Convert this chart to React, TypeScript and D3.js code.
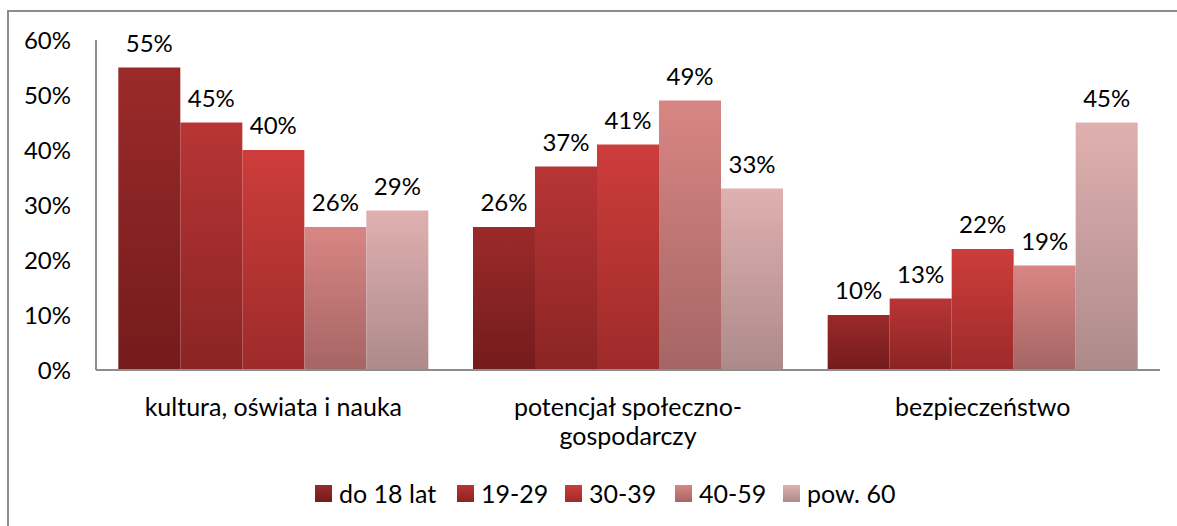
import React from 'react';
import * as d3 from 'd3';

const categories = [['kultura, oświata i nauka'], ['potencjał społeczno-', 'gospodarczy'], ['bezpieczeństwo']];
const series = ['do 18 lat', '19-29', '30-39', '40-59', 'pow. 60'];
// values per category, one per series (percent)
const values = [
  [55, 45, 40, 26, 29],
  [26, 37, 41, 49, 33],
  [10, 13, 22, 19, 45],
];
const yTicks = [0, 10, 20, 30, 40, 50, 60];
// gradient top / bottom colours of each series
const gradTop = ['#9b2a2a', '#b83535', '#cd3d3b', '#d88684', '#e0b0b0'];
const gradBottom = ['#741b1b', '#8a2424', '#9d2b2a', '#a56564', '#ad8a8a'];

const FONT = 'Lato, "Open Sans", sans-serif';

export default function App() {
  const W = 1177;
  const H = 526;
  const left = 96;
  const right = 1160;
  const top = 40;
  const bottom = 370;

  const y = d3.scaleLinear().domain([0, 60]).range([bottom, top]);
  const x0 = d3.scaleBand<number>().domain(d3.range(categories.length)).range([left, right]).padding(0);
  const x1 = d3.scaleBand<number>().domain(d3.range(series.length)).range([0, x0.bandwidth()])
    .paddingInner(0).paddingOuter(0.36);

  // legend positions (left edge of each marker)
  const legendX = [315, 457, 565, 675, 783];

  return (
    <svg width={W} height={H} style={{ position: 'absolute', left: 0, top: 0, background: '#fff' }}
      fontFamily={FONT}>
      <defs>
        {series.map((s, i) => (
          <linearGradient key={s} id={'g' + i} x1="0" y1="0" x2="0" y2="1">
            <stop offset="0" stopColor={gradTop[i]} />
            <stop offset="1" stopColor={gradBottom[i]} />
          </linearGradient>
        ))}
      </defs>

      {/* outer frame */}
      <rect x={8} y={11} width={W + 10} height={H + 10} fill="none" stroke="#8c8c8c" strokeWidth={2} />

      {/* y tick labels */}
      {yTicks.map(t => (
        <text key={t} x={71} y={y(t)} dy="0.36em" textAnchor="end" fontSize={24} fill="#000">
          {t + '%'}
        </text>
      ))}

      {/* bars */}
      {values.map((row, ci) => (
        <g key={ci} transform={'translate(' + x0(ci) + ',0)'}>
          {row.map((v, si) => (
            <rect key={si} x={x1(si)} y={y(v)} width={x1.bandwidth()} height={bottom - y(v)}
              fill={'url(#g' + si + ')'} />
          ))}
          {row.map((v, si) => (
            <text key={'t' + si} x={(x1(si) as number) + x1.bandwidth() / 2} y={y(v) - 16}
              textAnchor="middle" fontSize={24} fill="#000">
              {v + '%'}
            </text>
          ))}
        </g>
      ))}

      {/* axes */}
      <line x1={left} x2={left} y1={top} y2={bottom} stroke="#8c8c8c" strokeWidth={2} />
      <line x1={left} x2={right} y1={bottom} y2={bottom} stroke="#8c8c8c" strokeWidth={2} />

      {/* category labels */}
      {categories.map((lines, ci) => (
        <text key={ci} x={(x0(ci) as number) + x0.bandwidth() / 2} y={416} textAnchor="middle"
          fontSize={25} fill="#000">
          {lines.map((l, li) => (
            <tspan key={li} x={(x0(ci) as number) + x0.bandwidth() / 2} dy={li === 0 ? 0 : 29}>{l}</tspan>
          ))}
        </text>
      ))}

      {/* legend */}
      {series.map((s, i) => (
        <g key={s}>
          <rect x={legendX[i]} y={485} width={17} height={17} fill={'url(#g' + i + ')'} />
          <text x={legendX[i] + 24} y={503} fontSize={25} fill="#000">{s}</text>
        </g>
      ))}
    </svg>
  );
}
